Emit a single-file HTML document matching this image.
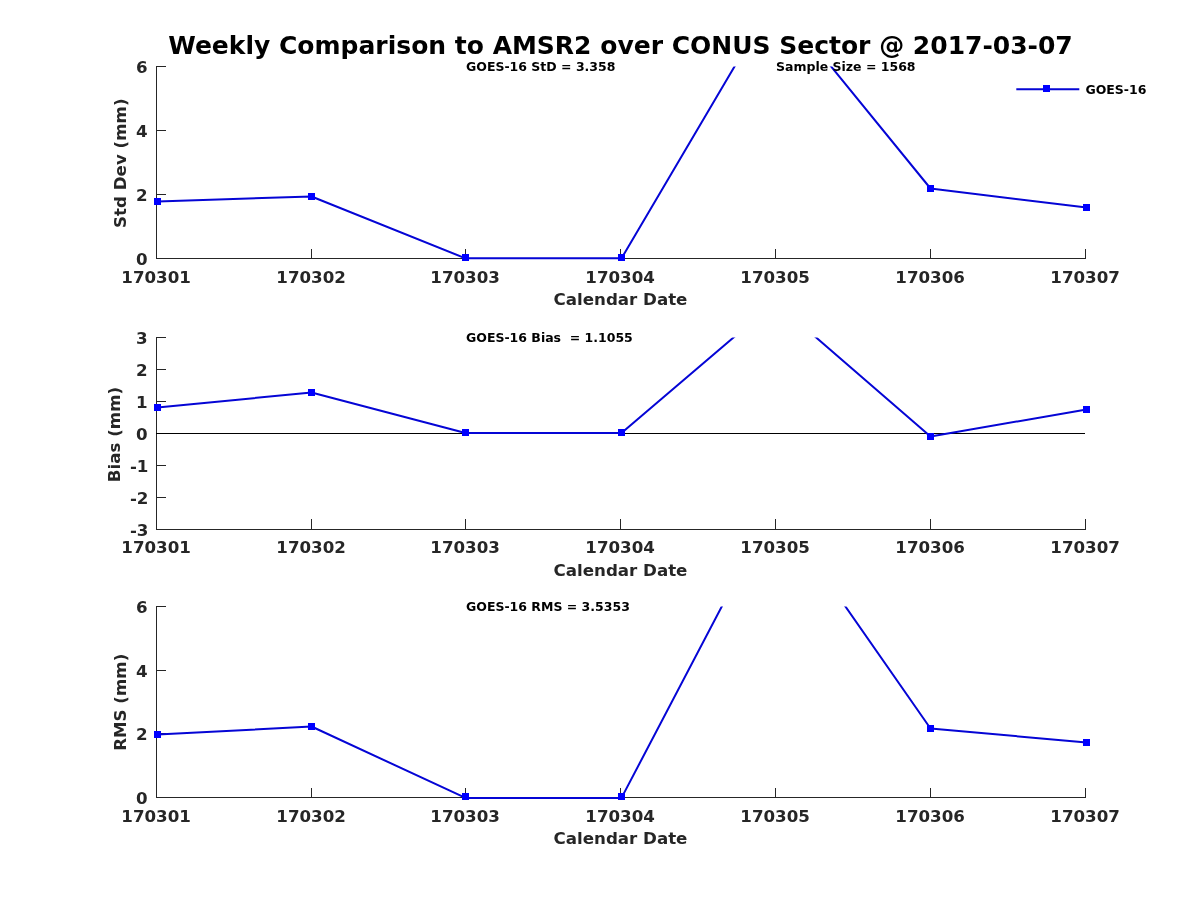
<!DOCTYPE html>
<html><head><meta charset="utf-8"><title>Weekly Comparison to AMSR2 over CONUS Sector</title>
<style>
html,body{margin:0;padding:0;background:#fff;}
body{width:1200px;height:900px;overflow:hidden;}
svg{display:block;font-family:"DejaVu Sans","Liberation Sans",sans-serif;font-weight:bold;}
.tk{fill:#262626;font-size:16.67px;}
.ax{stroke:#262626;stroke-width:1;fill:none;}
.an{fill:#000;font-size:12.5px;}
.dl{fill:none;stroke:#0505d5;stroke-width:2;stroke-linejoin:round;}
.mk{fill:#0000ff;}
</style></head><body>
<svg width="1200" height="900" viewBox="0 0 1200 900">
<rect width="1200" height="900" fill="#fff"/>

<text x="620.5" y="54" text-anchor="middle" font-size="25" fill="#000">Weekly Comparison to AMSR2 over CONUS Sector @ 2017-03-07</text>
<clipPath id="c0"><rect x="150" y="66.6" width="945" height="196"/></clipPath>
<path class="ax" d="M156.5 66 V259.0 M156 258.5 H1086"/>
<path class="ax" d="M311.5 249 V258M465.5 249 V258M620.5 249 V258M775.5 249 V258M930.5 249 V258M1085.5 249 V258"/>
<path class="ax" d="M157 258.5 H166M157 194.5 H166M157 130.5 H166M157 66.5 H166"/>
<text class="tk" x="156.1" y="283.0" text-anchor="middle">170301</text>
<text class="tk" x="311.1" y="283.0" text-anchor="middle">170302</text>
<text class="tk" x="465.1" y="283.0" text-anchor="middle">170303</text>
<text class="tk" x="620.1" y="283.0" text-anchor="middle">170304</text>
<text class="tk" x="775.1" y="283.0" text-anchor="middle">170305</text>
<text class="tk" x="930.1" y="283.0" text-anchor="middle">170306</text>
<text class="tk" x="1085.1" y="283.0" text-anchor="middle">170307</text>
<text class="tk" x="147.5" y="264.7" text-anchor="end">0</text>
<text class="tk" x="147.5" y="200.7" text-anchor="end">2</text>
<text class="tk" x="147.5" y="136.7" text-anchor="end">4</text>
<text class="tk" x="147.5" y="72.7" text-anchor="end">6</text>
<text class="tk" x="620.5" y="305.0" text-anchor="middle">Calendar Date</text>
<text class="tk" transform="translate(125.6 163.2) rotate(-90)" text-anchor="middle">Std Dev (mm)</text>
<polyline class="dl" clip-path="url(#c0)" points="157.50,201.50 311.50,196.50 465.50,258.35 621.50,258.35 775.07,-2.30 930.50,188.50 1086.50,207.50"/>
<rect class="mk" x="154" y="198" width="7" height="7"/>
<rect class="mk" x="308" y="193" width="7" height="7"/>
<rect class="mk" x="462" y="254" width="7" height="7"/>
<rect class="mk" x="618" y="254" width="7" height="7"/>
<rect class="mk" x="927" y="185" width="7" height="7"/>
<rect class="mk" x="1083" y="204" width="7" height="7"/>
<text class="an" x="466" y="70.9">GOES-16 StD = 3.358</text>
<text class="an" x="776" y="70.9">Sample Size = 1568</text>
<clipPath id="c1"><rect x="150" y="337.6" width="945" height="196"/></clipPath>
<path class="ax" d="M156.5 337 V530.0 M156 529.5 H1086"/>
<path class="ax" d="M311.5 519 V529M465.5 519 V529M620.5 519 V529M775.5 519 V529M930.5 519 V529M1085.5 519 V529"/>
<path class="ax" d="M157 529.5 H166M157 497.5 H166M157 465.5 H166M157 433.5 H166M157 401.5 H166M157 369.5 H166M157 337.5 H166"/>
<text class="tk" x="156.1" y="552.8" text-anchor="middle">170301</text>
<text class="tk" x="311.1" y="552.8" text-anchor="middle">170302</text>
<text class="tk" x="465.1" y="552.8" text-anchor="middle">170303</text>
<text class="tk" x="620.1" y="552.8" text-anchor="middle">170304</text>
<text class="tk" x="775.1" y="552.8" text-anchor="middle">170305</text>
<text class="tk" x="930.1" y="552.8" text-anchor="middle">170306</text>
<text class="tk" x="1085.1" y="552.8" text-anchor="middle">170307</text>
<text class="tk" x="148.4" y="535.7" text-anchor="end">-3</text>
<text class="tk" x="148.4" y="503.7" text-anchor="end">-2</text>
<text class="tk" x="148.4" y="471.7" text-anchor="end">-1</text>
<text class="tk" x="147.5" y="439.7" text-anchor="end">0</text>
<text class="tk" x="147.5" y="407.7" text-anchor="end">1</text>
<text class="tk" x="147.5" y="375.7" text-anchor="end">2</text>
<text class="tk" x="147.5" y="343.7" text-anchor="end">3</text>
<text class="tk" x="620.5" y="576.0" text-anchor="middle">Calendar Date</text>
<text class="tk" transform="translate(119.7 434.5) rotate(-90)" text-anchor="middle">Bias (mm)</text>
<path d="M156 433.5 H1085" stroke="#000" stroke-width="1"/>
<polyline class="dl" clip-path="url(#c1)" points="157.50,407.50 311.50,392.50 465.50,433.00 621.50,433.00 775.13,302.02 930.50,436.50 1086.50,409.50"/>
<rect class="mk" x="154" y="404" width="7" height="7"/>
<rect class="mk" x="308" y="389" width="7" height="7"/>
<rect class="mk" x="462" y="429" width="7" height="7"/>
<rect class="mk" x="618" y="429" width="7" height="7"/>
<rect class="mk" x="927" y="433" width="7" height="7"/>
<rect class="mk" x="1083" y="406" width="7" height="7"/>
<text class="an" x="466" y="341.9">GOES-16 Bias  = 1.1055</text>
<clipPath id="c2"><rect x="150" y="606.6" width="945" height="195"/></clipPath>
<path class="ax" d="M156.5 606 V798.0 M156 797.5 H1086"/>
<path class="ax" d="M311.5 788 V797M465.5 788 V797M620.5 788 V797M775.5 788 V797M930.5 788 V797M1085.5 788 V797"/>
<path class="ax" d="M157 797.5 H166M157 733.5 H166M157 670.5 H166M157 606.5 H166"/>
<text class="tk" x="156.1" y="822.0" text-anchor="middle">170301</text>
<text class="tk" x="311.1" y="822.0" text-anchor="middle">170302</text>
<text class="tk" x="465.1" y="822.0" text-anchor="middle">170303</text>
<text class="tk" x="620.1" y="822.0" text-anchor="middle">170304</text>
<text class="tk" x="775.1" y="822.0" text-anchor="middle">170305</text>
<text class="tk" x="930.1" y="822.0" text-anchor="middle">170306</text>
<text class="tk" x="1085.1" y="822.0" text-anchor="middle">170307</text>
<text class="tk" x="147.5" y="803.7" text-anchor="end">0</text>
<text class="tk" x="147.5" y="739.7" text-anchor="end">2</text>
<text class="tk" x="147.5" y="676.7" text-anchor="end">4</text>
<text class="tk" x="147.5" y="612.7" text-anchor="end">6</text>
<text class="tk" x="620.5" y="844.0" text-anchor="middle">Calendar Date</text>
<text class="tk" transform="translate(125.8 702.3) rotate(-90)" text-anchor="middle">RMS (mm)</text>
<polyline class="dl" clip-path="url(#c2)" points="157.50,734.50 311.50,726.50 465.50,797.90 621.50,797.90 774.84,505.26 930.50,728.50 1086.50,742.50"/>
<rect class="mk" x="154" y="731" width="7" height="7"/>
<rect class="mk" x="308" y="723" width="7" height="7"/>
<rect class="mk" x="462" y="793" width="7" height="7"/>
<rect class="mk" x="618" y="793" width="7" height="7"/>
<rect class="mk" x="927" y="725" width="7" height="7"/>
<rect class="mk" x="1083" y="739" width="7" height="7"/>
<text class="an" x="466" y="610.9">GOES-16 RMS = 3.5353</text>
<path d="M1016.3 89.3 H1079.3" stroke="#0505d5" stroke-width="2"/>
<rect class="mk" x="1043" y="85" width="7" height="7"/>
<text class="an" x="1085.4" y="93.8">GOES-16</text>
</svg>
</body></html>
